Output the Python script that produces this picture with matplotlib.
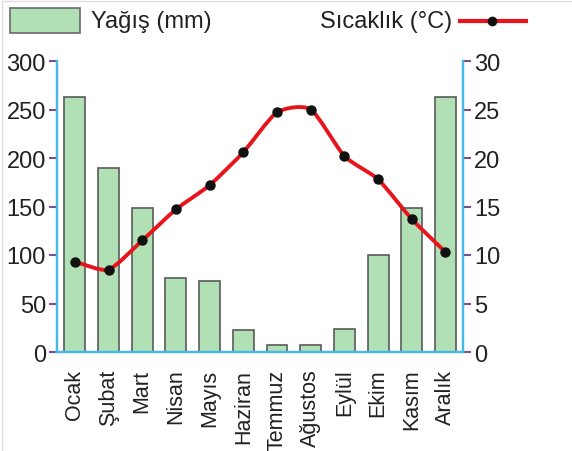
import numpy as np
import matplotlib
matplotlib.use('Agg')
import matplotlib.pyplot as plt
from matplotlib.path import Path
from matplotlib.patches import PathPatch, Rectangle
from matplotlib.lines import Line2D

plt.rcParams['font.family'] = ['Liberation Sans', 'DejaVu Sans']

# data
months = ['Ocak', 'Şubat', 'Mart', 'Nisan', 'Mayıs', 'Haziran',
          'Temmuz', 'Ağustos', 'Eylül', 'Ekim', 'Kasım', 'Aralık']
rain_mm = [263, 190, 148, 76, 73, 23, 7, 7, 24, 100, 148, 263]
temp_c = [9.3, 8.5, 11.5, 14.7, 17.2, 20.6, 24.7, 25.0, 20.2, 17.8, 13.7, 10.3]
rain_ticks = [0, 50, 100, 150, 200, 250, 300]
temp_ticks = [0, 5, 10, 15, 20, 25, 30]

BLUE = '#45b9ec'
TICK = '#7a4f92'
TXT = '#222222'


def smooth_path(x, y, k=9.0):
    # cardinal spline through the points, drawn as cubic bezier segments
    x = np.asarray(x, float)
    y = np.asarray(y, float)
    px = np.concatenate([[2 * x[0] - x[1]], x, [2 * x[-1] - x[-2]]])
    py = np.concatenate([[2 * y[0] - y[1]], y, [2 * y[-1] - y[-2]]])
    verts = [(x[0], y[0])]
    codes = [Path.MOVETO]
    for i in range(1, len(px) - 2):
        c1 = (px[i] + (px[i + 1] - px[i - 1]) / k, py[i] + (py[i + 1] - py[i - 1]) / k)
        c2 = (px[i + 1] - (px[i + 2] - px[i]) / k, py[i + 1] - (py[i + 2] - py[i]) / k)
        verts += [c1, c2, (px[i + 1], py[i + 1])]
        codes += [Path.CURVE4] * 3
    return Path(verts, codes)


W, H = 572, 452
fig = plt.figure(figsize=(W / 100, H / 100), dpi=100)
ax = fig.add_axes([57 / W, 1 - 353 / H, (463 - 57) / W, (353 - 62) / H])
ax2 = ax.twinx()

xs = np.arange(len(months))
ax.bar(xs, rain_mm, width=0.62, color='#b2e0b5', edgecolor='#5a5a5a', linewidth=1.2, zorder=2)
ax.set_xlim(-0.53, 11.52)
ax.set_ylim(0, 300)
ax2.set_ylim(0, 30)

ax2.add_patch(PathPatch(smooth_path(xs, temp_c), fill=False, edgecolor='#e8141b',
                        linewidth=2.8, capstyle='round', zorder=3))
ax2.plot(xs, temp_c, 'o', color='#111111', markersize=6.5, zorder=4)

for a in (ax, ax2):
    a.spines['top'].set_visible(False)
    for s in ('left', 'right', 'bottom'):
        a.spines[s].set_color(BLUE)
        a.spines[s].set_linewidth(1.6)
    a.patch.set_visible(False)

ax.set_yticks(rain_ticks)
ax2.set_yticks(temp_ticks)
ax.tick_params(axis='y', direction='out', length=6, width=1.5, color=TICK,
               labelsize=17, labelcolor=TXT, pad=2)
ax2.tick_params(axis='y', direction='out', length=6, width=1.5, color=TICK,
                labelsize=17, labelcolor=TXT, pad=2)
ax.set_xticks(xs)
ax.set_xticklabels(months, rotation=90, fontsize=15.5, color=TXT)
ax.tick_params(axis='x', length=0, pad=12)

# legend drawn at the top of the figure
fig.patches.append(Rectangle((10 / W, 1 - 34 / H), 70 / W, 25 / H, transform=fig.transFigure,
                             facecolor='#b2e0b5', edgecolor='#6a6a6a', linewidth=1.2))
fig.text(91 / W, 1 - 22 / H, 'Yağış (mm)', fontsize=17, color=TXT, va='center', ha='left')
fig.text(452 / W, 1 - 22 / H, 'Sıcaklık (°C)', fontsize=17, color=TXT, va='center', ha='right')
fig.lines.append(Line2D([460 / W, 526 / W], [1 - 22 / H, 1 - 22 / H], transform=fig.transFigure,
                        color='#e8141b', linewidth=3))
fig.lines.append(Line2D([492 / W], [1 - 22 / H], transform=fig.transFigure, marker='o',
                        color='#111111', markersize=6))

# faint frame along the top and left edges
fig.lines.append(Line2D([2 / W, 2 / W], [0, 1 - 2 / H], transform=fig.transFigure, color='#dddddd', linewidth=1))
fig.lines.append(Line2D([2 / W, 1], [1 - 2 / H, 1 - 2 / H], transform=fig.transFigure, color='#dddddd', linewidth=1))

fig.savefig('out.png', dpi=100)
